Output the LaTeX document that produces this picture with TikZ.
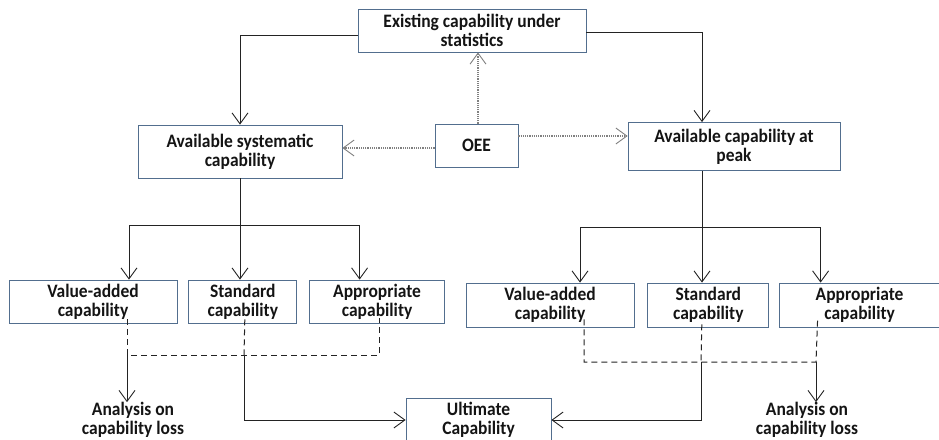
\documentclass[tikz,border=0pt]{standalone}
\usepackage{fontspec}
\setmainfont{Carlito}[FakeStretch=0.92]
\usetikzlibrary{positioning}
\usetikzlibrary{arrows.meta}
\usetikzlibrary{calc}
\definecolor{boxline}{RGB}{82,110,142}
\definecolor{inkline}{RGB}{35,35,35}

\begin{document}
\begin{tikzpicture}[x=1pt,y=-1pt,
    every node/.style={font=\fontsize{19}{19}\selectfont\bfseries,align=center,text=black!92},
    capbox/.style={draw=boxline,line width=0.8pt,inner sep=0pt},
    arr/.style={draw=inkline,line width=0.9pt,-{Straight Barb[length=11pt,width=16pt]}},
    oeearr/.style={draw=gray,line width=1.2pt,densely dotted,-{Straight Barb[length=11pt,width=16pt,line width=0.9pt]}},
    lossline/.style={draw=inkline,line width=1pt,dash pattern=on 6pt off 4pt}]
    \useasboundingbox (0,0) rectangle (939,439);

    \node[capbox,minimum width=228pt,minimum height=43pt] (exist) at (472,30.5) {Existing capability under\\statistics};
    \node[capbox,minimum width=204pt,minimum height=53pt] (sys) at (240,151.5) {Available systematic\\capability};
    \node[capbox,minimum width=83pt,minimum height=43pt] (oee) at (476.5,145.5) {OEE};
    \node[capbox,minimum width=212pt,minimum height=48pt] (peak) at (734,146.5) {Available capability at\\peak};

    \node[capbox,minimum width=168pt,minimum height=43pt] (lva) at (93,301.5) {Value-added\\capability};
    \node[capbox,minimum width=108pt,minimum height=43pt] (lstd) [right=11pt of lva] {Standard\\capability};
    \node[capbox,minimum width=135pt,minimum height=43pt] (lapp) [right=12pt of lstd] {Appropriate\\capability};

    \node[capbox,minimum width=168pt,minimum height=44pt] (rva) at (550,305) {Value-added\\capability};
    \node[capbox,minimum width=121pt,minimum height=44pt] (rstd) [right=13pt of rva] {Standard\\capability};
    \node[capbox,minimum width=160pt,minimum height=44pt] (rapp) [right=10pt of rstd] {Appropriate\\capability};

    \node[capbox,minimum width=145pt,minimum height=44pt] (ult) at (478.5,420) {Ultimate\\Capability};
    \node[inner sep=0pt] (lloss) at (133,420) {Analysis on\\capability loss};
    \node[inner sep=0pt] (rloss) at (807,420) {Analysis on\\capability loss};

    \coordinate (lbus) at (240,225);
    \coordinate (rbus) at (702,227);
    \coordinate (ljoin) at (127,355);
    \coordinate (lmid) at (244,355);
    \coordinate (rjoin) at (816,362);
    \coordinate (rmid) at (701,362);

    \draw[arr] ([yshift=-4.5pt]exist.west) -| (sys.north);
    \draw[arr] ([yshift=-1.5pt]exist.east) -| ([xshift=-32pt]peak.north);

    \draw[oeearr] ([xshift=1.5pt]oee.north) -- ([xshift=1.5pt]oee.north |- exist.south);
    \draw[oeearr] ([yshift=-2.5pt]oee.west) -- ([yshift=-2.5pt]oee.west -| sys.east);
    \draw[oeearr] ([yshift=9.5pt]oee.east) -- ([yshift=9.5pt]oee.east -| peak.west);

    \draw[arr] (sys.south) -- (sys.south |- lstd.north);
    \draw[arr] (lbus) -| ([xshift=36pt]lva.north);
    \draw[arr] (lbus) -| ([xshift=-17.5pt]lapp.north);
    \draw[arr] ([xshift=-32pt]peak.south) -- ([xshift=-32pt]peak.south |- rstd.north);
    \draw[arr] (rbus) -| ([xshift=30pt]rva.north);
    \draw[arr] (rbus) -| ([xshift=-39pt]rapp.north);

    \draw[lossline] ([xshift=34pt,yshift=4pt]lva.south) |- (ljoin) -- ([xshift=2.5pt]ljoin -| lapp.south) -- ([xshift=2.5pt,yshift=5pt]lapp.south);
    \draw[lossline] ([xshift=2pt,yshift=4pt]lstd.south) -- (lmid);
    \draw[arr] (ljoin) -- (ljoin |- lloss.north);
    \draw[arr] (lmid) |- (ult.west);

    \draw[lossline] ([xshift=34pt,yshift=8pt]rva.south) |- (rjoin) -- ([xshift=-42pt,yshift=8pt]rapp.south);
    \draw[lossline] ([xshift=-6.5pt,yshift=3pt]rstd.south) -- (rmid);
    \draw[arr] (rjoin) -- (rjoin |- rloss.north);
    \draw[arr] (rmid) |- (ult.east);
\end{tikzpicture}
\end{document}
